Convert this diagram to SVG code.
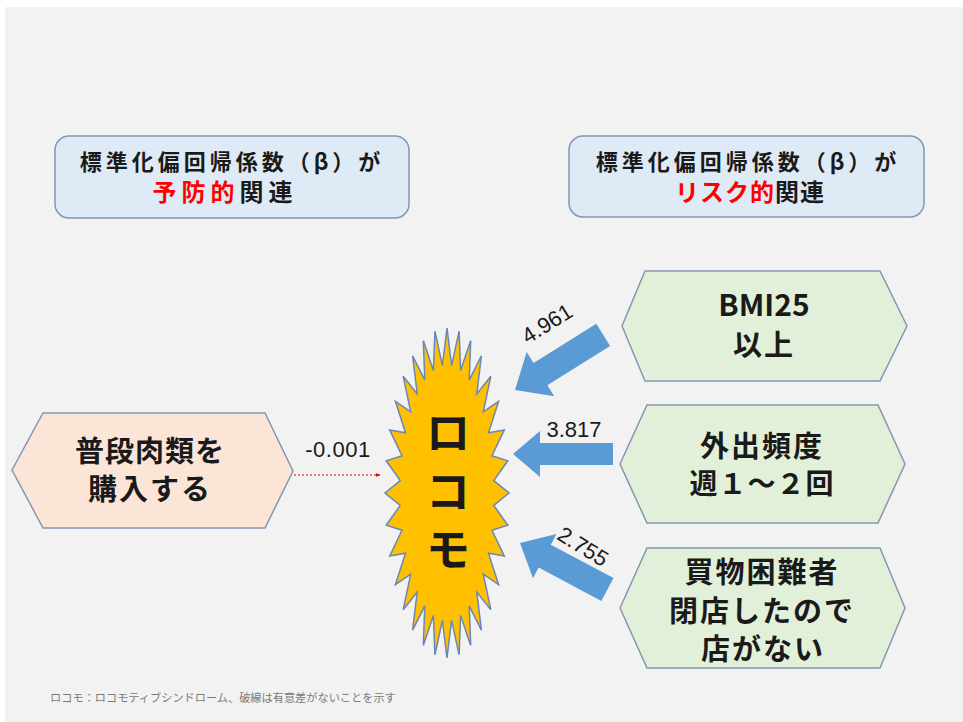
<svg xmlns="http://www.w3.org/2000/svg" width="963" height="722" viewBox="0 0 963 722">
<style>
.jp{font-family:"Noto Sans CJK JP","Noto Sans CJK SC",sans-serif;font-weight:bold;fill:#1a1a1a;text-anchor:middle}
.num{font-family:"Liberation Sans","Noto Sans",sans-serif;fill:#1a1a1a;text-anchor:middle;font-size:22px}
.hdr{fill:#deebf7;stroke:#8497b0;stroke-width:1.5}
.hexL{fill:#fbe5d6;stroke:#8497b0;stroke-width:1.5}
.hexR{fill:#e2f0d9;stroke:#8497b0;stroke-width:1.5}
.barrow{fill:#5b9bd5}
.red{fill:#ff0000}
</style>
<defs>
<marker id="redhead" viewBox="0 0 10 10" refX="9" refY="5" markerWidth="5" markerHeight="5" orient="auto" markerUnits="userSpaceOnUse">
<path d="M0,1 L10,5 L0,9 Z" fill="#e00000"/>
</marker>
</defs>
<rect x="0" y="0" width="963" height="722" fill="#ffffff"/>
<rect x="5" y="7" width="958" height="715" fill="#f2f2f2"/>

<g id="header-left">
<rect class="hdr" x="55" y="136" width="354" height="82" rx="14"/>
<text class="jp" x="232" y="170" font-size="22" letter-spacing="4">標準化偏回帰係数（β）が</text>
<text class="jp" x="225" y="201" font-size="24" letter-spacing="5"><tspan class="red">予防的</tspan>関連</text>
</g>

<g id="header-right">
<rect class="hdr" x="569" y="136" width="355" height="81" rx="14"/>
<text class="jp" x="748" y="170" font-size="22" letter-spacing="4">標準化偏回帰係数（β）が</text>
<text class="jp" x="750" y="201" font-size="24" letter-spacing="1"><tspan class="red">リスク的</tspan>関連</text>
</g>

<g id="node-meat">
<polygon class="hexL" points="12,470 43,413 265,413 293,471 265,528 43,528"/>
<text class="jp" x="150" y="462" font-size="29" letter-spacing="1">普段肉類を</text>
<text class="jp" x="150" y="500" font-size="29" letter-spacing="2">購入する</text>
</g>

<g id="node-locomo">
<polygon fill="#ffc000" stroke="#6a87b8" stroke-width="1.5" points="509,493 493.8,505.5 507.8,525.2 492,530.2 504.3,556.1 488.5,553.3 498.6,584.7 483.3,574.2 490.8,609.7 476.8,592 481.4,630.2 469.2,605.9 470.7,645.4 460.6,615.5 459.1,654.8 451.6,620.4 447,658 442.4,620.4 434.9,654.8 433.4,615.5 423.3,645.4 424.8,605.9 412.6,630.2 417.2,592 403.2,609.7 410.7,574.2 395.4,584.7 405.5,553.3 389.7,556.1 402,530.2 386.2,525.2 400.2,505.5 385,493 400.2,480.5 386.2,460.8 402,455.8 389.7,429.9 405.5,432.7 395.4,401.3 410.7,411.8 403.2,376.3 417.2,394 412.6,355.8 424.8,380.1 423.3,340.6 433.4,370.5 434.9,331.2 442.4,365.6 447,328 451.6,365.6 459.1,331.2 460.6,370.5 470.7,340.6 469.2,380.1 481.4,355.8 476.8,394 490.8,376.3 483.3,411.8 498.6,401.3 488.5,432.7 504.3,429.9 492,455.8 507.8,460.8 493.8,480.5"/>
<text class="jp" x="448" y="449" font-size="44" fill="#000">ロ</text>
<text class="jp" x="448" y="508" font-size="44" fill="#000">コ</text>
<text class="jp" x="448" y="566" font-size="44" fill="#000">モ</text>
</g>

<g id="node-bmi">
<polygon class="hexR" points="622,326 645,271 880,271 907,326 880,381 645,381"/>
<text class="jp" x="764" y="316" font-size="30">BMI25</text>
<text class="jp" x="764" y="356" font-size="29" letter-spacing="2">以上</text>
</g>

<g id="node-outing">
<polygon class="hexR" points="620,464 647,405 878,405 905,464 878,523 647,523"/>
<text class="jp" x="762" y="457" font-size="29" letter-spacing="2">外出頻度</text>
<text class="jp" x="762" y="494" font-size="28" letter-spacing="1">週１～２回</text>
</g>

<g id="node-shopping">
<polygon class="hexR" points="620,608 647,548 880,548 905,608 880,668 647,668"/>
<text class="jp" x="762" y="583" font-size="29" letter-spacing="2">買物困難者</text>
<text class="jp" x="762" y="622" font-size="29" letter-spacing="2">閉店したので</text>
<text class="jp" x="763" y="660" font-size="29" letter-spacing="2">店がない</text>
</g>

<g id="connectors">
<line x1="294" y1="475" x2="380" y2="475" stroke="#e00000" stroke-width="1.2" stroke-dasharray="2,2" marker-end="url(#redhead)"/>
<text class="num" x="338" y="457" letter-spacing="0.5">-0.001</text>

<path class="barrow" transform="translate(515,390) rotate(-32)" d="M0,0 L30,-26 L30,-13 L104,-13 L104,13 L30,13 L30,26 Z"/>
<text class="num" transform="translate(551,330) rotate(-32)" x="0" y="0">4.961</text>

<path class="barrow" transform="translate(513,454)" d="M0,0 L27,-23 L27,-11 L100,-11 L100,11 L27,11 L27,23 Z"/>
<text class="num" x="574" y="437">3.817</text>

<path class="barrow" transform="translate(520,543) rotate(28)" d="M0,0 L28,-25 L28,-13 L99,-13 L99,13 L28,13 L28,25 Z"/>
<text class="num" transform="translate(579,553) rotate(32)" x="0" y="0">2.755</text>
</g>

<text x="50" y="702" font-family="Noto Sans CJK JP, sans-serif" font-size="11.2" fill="#7a7a7a">ロコモ：ロコモティブシンドローム、破線は有意差がないことを示す</text>
</svg>
